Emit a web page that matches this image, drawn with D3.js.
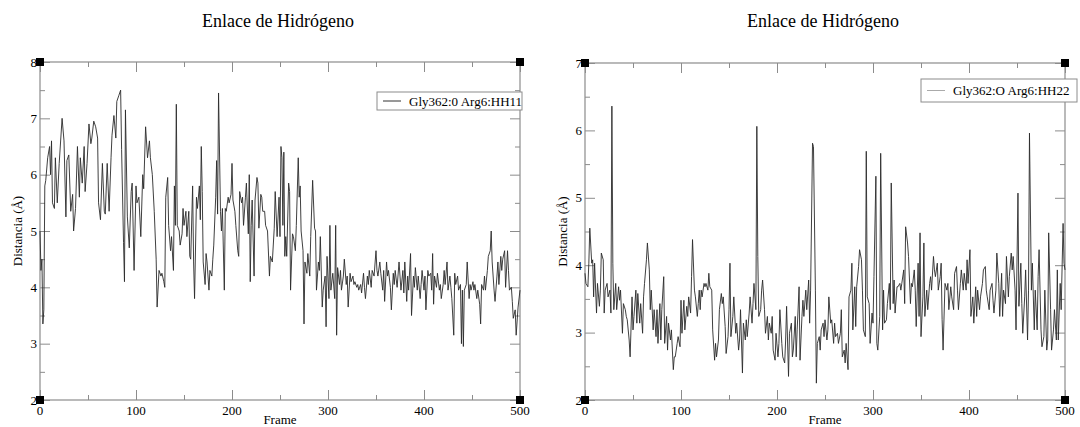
<!DOCTYPE html>
<html>
<head>
<meta charset="utf-8">
<script src="https://d3js.org/d3.v7.min.js"></script>
<style>
    body { margin: 0; background: #fff; }
    svg text { font-family: "Liberation Serif", "DejaVu Serif", serif; fill: #000; }
</style>
</head>
<body>
<script>
// left panel: Gly362:0 - Arg6:HH11
var frameA = [0,1,2,3,4,5,6,8,10,11,12,13,15,16,18,20,23,25,27,28,30,32,34,35,37,39,41,42,44,46,47,49,51,53,54,56,58,60,61,63,65,67,68,70,72,74,75,77,79,80,82,84,85,87,88,89,91,93,95,96,98,100,101,103,105,107,108,110,112,114,115,117,119,121,122,124,126,127,129,130,131,133,134,136,137,139,140,141,142,143,145,146,148,149,150,152,153,155,156,157,159,160,161,163,164,166,167,168,169,170,172,173,174,176,177,179,180,181,183,184,185,186,188,189,190,192,193,194,196,197,199,200,201,203,204,206,207,208,210,211,212,214,215,217,218,219,220,221,223,224,226,227,228,230,231,232,234,235,237,239,240,242,244,245,247,249,250,251,252,253,254,255,256,257,259,260,261,263,264,266,267,269,270,271,272,274,275,276,278,279,281,282,284,286,287,288,290,291,292,294,295,297,298,299,301,302,303,305,307,308,309,310,312,313,314,316,317,319,320,321,323,324,326,327,328,330,331,332,334,335,337,338,339,341,342,343,345,346,348,350,351,352,354,355,357,358,359,361,362,363,365,366,368,369,370,372,374,375,376,378,379,380,382,383,384,386,387,389,390,391,393,394,396,397,398,400,401,402,404,405,407,408,409,410,411,413,414,416,417,418,420,421,422,424,425,427,428,429,431,432,433,435,436,438,439,440,441,442,444,445,447,448,449,451,452,453,455,456,458,459,460,462,463,464,466,467,469,470,471,473,474,476,477,478,480,481,482,484,485,487,488,489,491,492,493,495,496,498,500];
var distA = [5.0,4.3,4.5,3.35,3.6,5.8,5.9,6.3,6.5,6.0,6.6,5.5,5.4,6.3,5.5,6.2,7.0,6.6,5.25,6.25,6.35,5.35,5.65,5.0,5.4,6.5,5.6,6.3,5.85,6.5,5.7,6.2,6.9,6.55,6.65,6.95,6.85,6.65,5.5,5.2,6.2,5.35,5.3,6.2,5.35,6.3,6.7,7.05,6.65,7.3,7.4,7.5,6.45,4.8,4.1,7.15,5.25,4.7,5.7,5.85,4.3,5.8,5.5,5.6,4.9,6.0,5.75,6.85,6.3,6.6,6.3,6.0,5.35,4.5,3.65,4.3,4.2,4.25,4.1,4.0,5.6,5.95,5.1,4.65,4.9,4.3,5.8,5.1,7.25,5.1,5.0,4.75,4.95,5.4,5.1,5.35,4.9,5.35,4.55,4.5,5.8,4.45,3.8,5.6,5.4,5.8,5.2,6.5,5.7,4.45,4.05,4.6,4.45,3.95,4.3,4.2,4.5,4.75,5.6,6.25,5.3,7.45,5.35,5.0,5.4,3.95,5.4,5.35,5.6,5.5,5.65,6.2,5.55,5.35,5.1,4.65,4.55,5.7,5.5,5.6,5.1,5.6,5.85,4.95,6.0,4.1,5.1,5.55,4.2,5.55,5.95,5.85,5.05,5.65,5.6,5.35,5.35,5.1,5.0,4.2,4.55,4.45,5.05,5.7,4.9,5.6,4.9,6.5,6.3,5.1,6.4,4.55,4.9,4.55,5.85,5.7,3.95,4.95,4.9,4.65,5.1,6.3,5.6,5.8,5.0,4.65,3.35,4.45,4.25,4.6,4.2,4.9,5.9,5.05,5.0,3.95,4.45,4.3,4.9,3.65,3.95,4.2,3.3,4.55,3.8,5.1,3.95,4.25,3.8,5.1,3.15,4.35,4.05,4.3,3.95,4.2,4.5,4.05,4.2,3.65,4.25,4.1,4.2,4.05,4.1,4.0,4.05,3.95,4.05,3.9,4.25,4.0,3.8,4.2,4.05,4.3,4.0,4.3,4.2,4.65,4.3,4.2,4.45,4.25,3.95,4.3,3.75,4.45,4.2,4.3,4.0,3.6,4.25,4.05,4.3,4.0,4.45,4.2,3.95,4.3,3.9,4.45,3.75,4.2,3.95,4.6,3.5,4.2,4.0,4.35,3.95,4.2,3.8,4.05,4.3,3.95,4.2,3.6,4.3,4.2,4.25,3.95,4.6,3.7,4.2,4.0,4.25,3.95,4.05,3.8,4.05,4.3,4.05,4.45,3.95,4.2,4.0,3.8,3.15,4.25,4.05,4.2,3.95,4.05,3.0,3.95,2.95,3.95,4.05,4.45,3.8,4.05,3.95,4.1,3.95,4.05,3.8,3.95,3.7,3.35,4.05,3.95,4.2,3.95,4.3,4.55,4.65,5.0,4.45,3.95,3.75,4.2,4.45,4.05,4.55,4.3,4.5,4.65,4.0,4.65,4.3,3.95,4.0,3.75,3.45,3.6,3.15,3.65,3.95];

// right panel: Gly362:O - Arg6:HH22
var frameB = [0,1,3,4,5,7,8,9,10,12,13,15,16,17,19,20,21,23,24,26,27,28,29,30,32,33,35,36,37,39,40,42,43,44,46,47,49,50,51,53,54,55,57,58,60,61,62,64,65,67,68,69,71,72,74,75,76,78,79,80,82,83,85,86,87,89,90,92,93,94,96,97,99,100,101,103,104,106,107,108,110,111,112,114,115,117,118,119,120,121,122,124,125,126,128,129,130,132,133,135,136,137,139,140,142,143,144,146,147,149,150,151,152,154,155,157,158,160,161,162,164,165,167,168,169,171,172,174,175,176,178,179,180,181,183,184,185,187,188,190,191,192,194,195,196,198,199,201,202,203,205,206,208,209,210,212,213,215,216,217,219,220,221,223,224,226,227,228,230,231,233,234,235,237,238,240,241,242,244,245,246,248,249,250,252,253,254,256,257,259,260,261,263,264,266,267,268,270,271,272,274,275,277,278,279,281,282,283,285,286,288,289,290,292,293,294,296,297,299,300,301,303,304,305,307,308,310,311,312,314,315,317,318,319,321,322,323,325,326,328,329,330,332,333,334,336,337,339,340,341,343,344,345,347,348,349,350,352,353,354,356,357,359,360,361,363,364,365,367,368,370,371,372,373,375,377,378,379,381,382,384,385,387,388,389,391,392,394,395,397,398,399,401,402,404,405,407,408,409,411,412,414,415,417,418,419,421,422,424,425,426,428,429,431,432,434,435,436,438,439,441,442,444,445,446,448,449,451,452,454,455,456,458,459,461,462,463,465,466,468,469,471,472,473,475,476,478,479,481,482,483,485,486,488,489,491,492,493,495,496,498,499,500];
var distB = [3.88,3.73,3.68,4.03,4.55,4.03,4.08,3.53,4.03,3.29,3.73,3.39,3.63,4.18,4.08,3.29,3.63,3.73,3.53,3.63,3.29,6.36,4.03,3.34,3.73,3.34,3.68,3.48,3.63,2.99,3.43,3.34,3.24,3.19,2.89,2.64,3.53,3.04,3.24,3.63,3.14,3.58,3.14,3.43,2.99,3.53,3.73,4.08,4.33,3.93,3.34,3.63,3.04,3.34,2.94,3.34,2.84,3.43,2.89,3.34,3.83,2.84,3.24,2.74,3.14,2.89,3.04,2.45,2.64,2.64,2.84,2.94,2.79,3.48,2.99,3.48,3.04,3.39,3.24,3.53,3.29,3.83,4.38,3.63,3.53,3.24,3.43,3.63,3.34,3.63,3.53,3.73,3.68,3.73,3.63,3.88,3.68,3.63,3.04,2.59,2.84,2.64,2.89,3.34,3.58,3.43,3.53,3.09,2.69,2.94,3.34,4.03,2.94,3.24,3.53,2.99,3.14,2.74,2.89,3.34,2.40,3.14,2.89,3.19,2.94,3.29,3.53,3.14,3.43,3.73,3.34,6.06,4.13,3.24,3.34,3.63,3.78,3.34,2.99,3.24,2.89,3.14,2.99,3.24,2.74,2.59,2.99,2.64,2.84,3.34,2.84,2.64,2.55,2.89,3.39,2.35,2.99,3.14,2.64,2.74,3.24,2.64,3.04,3.68,2.59,3.24,3.48,3.24,3.63,3.34,3.78,3.14,3.63,5.81,5.76,3.63,2.25,2.84,2.94,2.74,3.04,3.14,2.94,3.19,2.89,3.04,3.53,3.14,3.19,2.84,3.14,2.94,2.99,2.84,2.99,3.34,2.64,2.74,2.55,2.84,2.45,3.53,3.63,4.03,3.04,3.68,3.09,3.68,3.98,4.23,4.08,3.63,3.04,2.94,5.69,3.53,3.43,2.84,3.29,3.14,3.83,5.32,2.84,2.74,3.24,5.66,3.04,3.63,3.14,3.19,3.43,3.73,3.34,5.22,3.43,3.78,3.29,3.68,3.68,3.73,3.63,3.73,3.93,3.43,4.57,4.33,4.13,3.43,3.73,3.68,3.93,3.63,3.09,4.03,3.24,4.48,2.94,3.53,4.33,3.24,3.63,3.34,3.73,3.83,3.63,4.13,3.93,3.83,4.03,3.63,3.83,4.03,3.19,2.74,3.73,3.63,3.73,3.34,3.68,3.53,3.34,3.88,3.98,3.63,3.34,3.73,3.93,3.63,3.88,3.63,4.08,3.73,4.23,3.24,3.53,3.14,3.68,3.24,3.63,3.34,3.53,3.73,3.93,3.98,3.63,3.53,3.34,3.63,3.73,3.48,3.29,3.63,4.18,3.73,3.24,3.88,3.24,3.63,3.43,4.13,3.53,3.83,4.18,3.93,4.13,3.63,3.04,5.07,3.39,4.03,3.43,2.99,3.53,3.93,2.89,3.63,5.96,3.63,4.03,3.04,3.63,3.04,3.83,4.23,3.04,2.79,2.94,3.63,2.74,2.89,4.48,3.34,2.74,3.04,3.34,2.89,3.93,2.89,3.73,3.34,4.62,4.03,3.93];

var titleText = "Enlace de Hidrógeno";
var xLabel = "Frame";
var yLabel = "Distancia (Å)";
var legendA = "Gly362:0 Arg6:HH11";
var legendB = "Gly362:O Arg6:HH22";
var xTicks = [0, 100, 200, 300, 400, 500];
var yTicksA = [2, 3, 4, 5, 6, 7, 8];
var yTicksB = [2, 3, 4, 5, 6, 7];

var axisGrey = "#8c8c8c";

var svg = d3.select("body").append("svg")
    .attr("width", 1080)
    .attr("height", 427);

function panel(opt) {
    var x = d3.scaleLinear().domain([0, 500]).range([opt.left, opt.right]);
    var y = d3.scaleLinear().domain(opt.yDomain).range([opt.bottom, opt.top]);
    var g = svg.append("g");

    // title
    g.append("text")
        .attr("x", (opt.left + opt.right) / 2 - 2)
        .attr("y", 27)
        .attr("text-anchor", "middle")
        .style("font-size", "18px")
        .text(titleText);

    // minor ticks (every 50 frames / 0.5 Å), all four sides
    var xMinor = d3.range(50, 500, 100);
    var yMinor = d3.range(opt.yDomain[0] + 0.5, opt.yDomain[1], 1);
    var sides = [
        [d3.axisBottom(x), "translate(0," + opt.bottom + ")", xTicks, xMinor],
        [d3.axisTop(x), "translate(0," + opt.top + ")", xTicks, xMinor],
        [d3.axisLeft(y), "translate(" + opt.left + ",0)", opt.yTicks, yMinor],
        [d3.axisRight(y), "translate(" + opt.right + ",0)", opt.yTicks, yMinor]
    ];
    sides.forEach(function (s) {
        g.append("g").attr("transform", s[1])
            .call(s[0].tickValues(s[3]).tickSize(-5).tickFormat(""))
            .call(function (a) { a.select(".domain").remove(); });
        g.append("g").attr("transform", s[1])
            .call(s[0].tickValues(s[2]).tickSize(-10).tickFormat(""))
            .call(function (a) { a.select(".domain").remove(); });
    });
    g.selectAll(".tick line").attr("stroke", axisGrey);

    // frame
    g.append("rect")
        .attr("x", opt.left).attr("y", opt.top)
        .attr("width", opt.right - opt.left).attr("height", opt.bottom - opt.top)
        .attr("fill", "none").attr("stroke", axisGrey).attr("stroke-width", 1.2);

    // tick labels
    g.append("g").selectAll("text")
        .data(xTicks).enter().append("text")
        .attr("x", d => x(d))
        .attr("y", opt.bottom + 15)
        .attr("text-anchor", "middle")
        .style("font-size", "13px")
        .text(d => d);
    g.append("g").selectAll("text")
        .data(opt.yTicks).enter().append("text")
        .attr("x", opt.left - 3)
        .attr("y", d => y(d) + 4.5)
        .attr("text-anchor", "end")
        .style("font-size", "13px")
        .text(d => d);

    // axis labels
    g.append("text")
        .attr("x", (opt.left + opt.right) / 2)
        .attr("y", 424)
        .attr("text-anchor", "middle")
        .style("font-size", "13px")
        .text(xLabel);
    g.append("text")
        .attr("transform", "translate(" + (opt.left - 18) + "," + ((opt.top + opt.bottom) / 2) + ") rotate(-90)")
        .attr("text-anchor", "middle")
        .style("font-size", "13px")
        .text(yLabel);

    // data line
    var pts = opt.frames.map((f, i) => [f, opt.values[i]]);
    g.append("path")
        .datum(pts)
        .attr("fill", "none")
        .attr("stroke", "#2a2a2a")
        .attr("stroke-width", 0.9)
        .attr("d", d3.line().x(d => x(d[0])).y(d => y(d[1])));

    // corner markers
    var corners = [[0, opt.yDomain[0]], [500, opt.yDomain[0]], [0, opt.yDomain[1]], [500, opt.yDomain[1]]];
    g.append("g").selectAll("rect")
        .data(corners).enter().append("rect")
        .attr("x", d => x(d[0]) - 4)
        .attr("y", d => y(d[1]) - 4)
        .attr("width", 8).attr("height", 8)
        .attr("fill", "#000");

    // legend
    var lg = opt.legend;
    g.append("rect")
        .attr("x", lg.x).attr("y", lg.y)
        .attr("width", lg.w).attr("height", lg.h)
        .attr("fill", "#fff").attr("stroke", axisGrey);
    g.append("line")
        .attr("x1", lg.x + 6).attr("x2", lg.x + 24)
        .attr("y1", lg.y + lg.h / 2).attr("y2", lg.y + lg.h / 2)
        .attr("stroke", lg.sample);
    g.append("text")
        .attr("x", lg.x + 32)
        .attr("y", lg.y + lg.h / 2 + 4.5)
        .style("font-size", "13px")
        .text(lg.text);
}

panel({
    left: 40, right: 520, top: 62, bottom: 400,
    yDomain: [2, 8], yTicks: yTicksA,
    frames: frameA, values: distA,
    legend: { x: 377, y: 92, w: 145, h: 18, sample: "#333", text: legendA }
});

panel({
    left: 585, right: 1065, top: 63, bottom: 400,
    yDomain: [2, 7], yTicks: yTicksB,
    frames: frameB, values: distB,
    legend: { x: 921, y: 79, w: 156, h: 23, sample: "#aaa", text: legendB }
});
</script>
</body>
</html>
